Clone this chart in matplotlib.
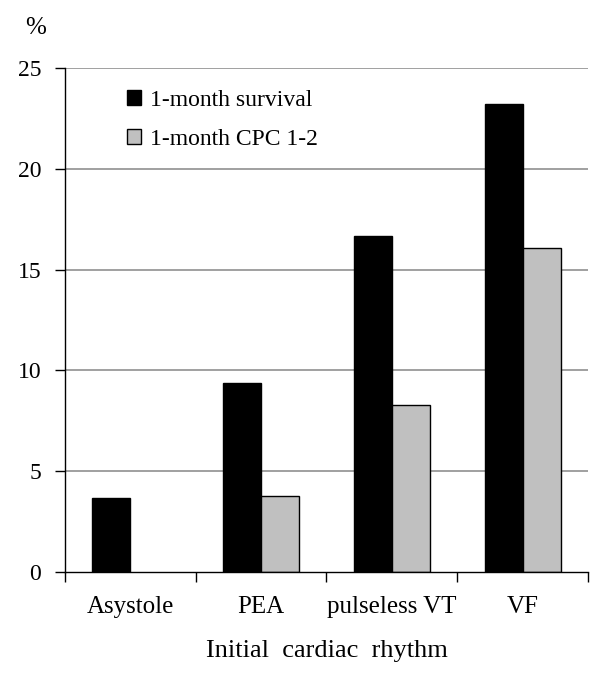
import numpy as np
import matplotlib
matplotlib.use("Agg")
import matplotlib.pyplot as plt
from matplotlib.patches import Patch

# datos
ritmos = ["Asystole", "PEA", "pulseless VT", "VF"]
supervivencia = [3.66, 9.36, 16.68, 23.21]
cpc_1_2 = [0.0, 3.77, 8.30, 16.06]
etiquetas_serie = ["1-month survival", "1-month CPC 1-2"]
ticks_y = [0, 5, 10, 15, 20, 25]

plt.rcParams["font.family"] = ["Liberation Serif", "DejaVu Serif"]

fig = plt.figure(figsize=(6.0, 6.76), dpi=100)
ax = fig.add_axes([0.1083, 0.1538, 0.8717, 0.7456])

x = np.arange(len(ritmos))
ancho = 0.29
ax.bar(x - ancho/2, supervivencia, ancho, color="black", edgecolor="black", linewidth=1, zorder=3)
# sin borde para barras de altura cero
bordes = ["black" if v > 0 else "none" for v in cpc_1_2]
ax.bar(x + ancho/2, cpc_1_2, ancho, color="#c0c0c0", edgecolor=bordes, linewidth=1, zorder=3)

ax.set_xlim(-0.5, len(ritmos) - 0.5)
ax.set_ylim(0, 25)
ax.set_yticks(ticks_y)
ax.set_yticklabels([str(t) for t in ticks_y], fontsize=17)
ax.tick_params(axis="y", length=7, width=1, pad=10, direction="out")

# ticks mayores en los bordes, etiquetas en el centro
ax.set_xticks(np.arange(len(ritmos) + 1) - 0.5)
ax.set_xticklabels([])
ax.set_xticks(x, minor=True)
ax.set_xticklabels(ritmos, minor=True, fontsize=18)
ax.tick_params(axis="x", which="major", length=7, width=1, direction="out")
ax.tick_params(axis="x", which="minor", length=0, pad=17)

for t in ticks_y[1:]:
    ax.axhline(t, color="#999999", linewidth=1.3, zorder=1)

ax.spines["top"].set_visible(False)
ax.spines["right"].set_visible(False)
ax.spines["left"].set_linewidth(1)
ax.spines["bottom"].set_linewidth(1)
ax.spines["bottom"].set_zorder(4)

ax.set_xlabel("Initial  cardiac  rhythm", fontsize=19, labelpad=16)
fig.text(0.06, 0.958, "%", fontsize=18, ha="center", va="center")

handles = [Patch(facecolor="black", edgecolor="black"),
           Patch(facecolor="#c0c0c0", edgecolor="black")]
ax.legend(handles, etiquetas_serie, loc="upper left", bbox_to_anchor=(0.1, 0.975),
          frameon=False, fontsize=17, handlelength=0.6, handleheight=0.6,
          handletextpad=0.4, labelspacing=0.75, borderaxespad=0)

fig.savefig("out.png", dpi=100)
